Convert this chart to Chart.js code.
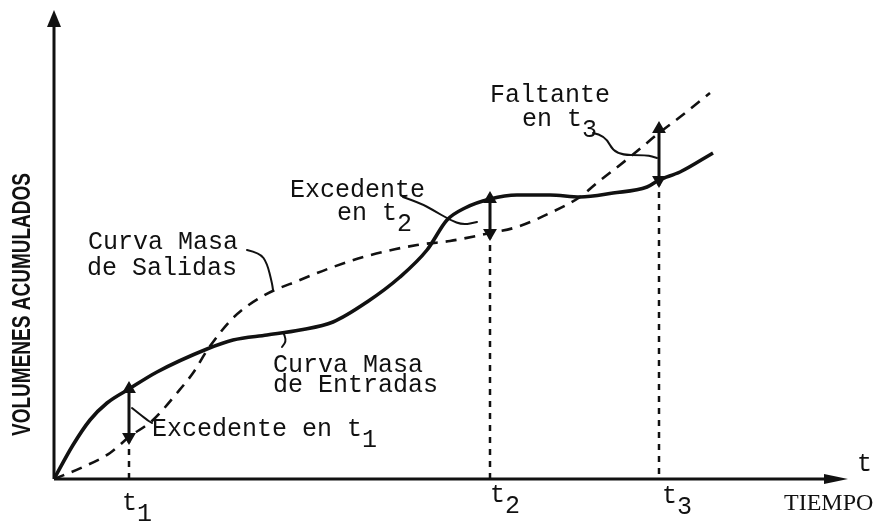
<!DOCTYPE html>
<html>
<head>
<meta charset="utf-8">
<script src="https://cdn.jsdelivr.net/npm/chart.js@4/dist/chart.umd.min.js"></script>
<style>
  body { margin: 0; background: #fff; }
  #wrap { width: 878px; height: 521px; }
</style>
</head>
<body>
<div id="wrap"><canvas id="grafica" width="878" height="521"></canvas></div>
<script>
// Curva masa de entradas (tiempo, volumen acumulado)
const entradasT = [0, 19, 36, 53, 75, 103, 153, 179, 213, 246, 279, 313, 346, 373, 393, 411, 436, 463, 496, 526, 559, 593, 605, 626, 659];
const entradasV = [0, 34, 59, 76, 90, 107, 130, 139, 144, 149, 157, 177, 202, 229, 259, 271, 280, 284, 284, 282, 286, 292, 299, 307, 326];

// Curva masa de salidas
const salidasT = [0, 29, 56, 75, 99, 123, 139, 154, 179, 209, 246, 279, 313, 363, 396, 436, 463, 496, 526, 543, 576, 605, 626, 656];
const salidasV = [0, 12, 26, 42, 59, 86, 106, 130, 161, 183, 199, 212, 223, 234, 238, 246, 252, 266, 282, 296, 322, 346, 362, 386];

// instantes t1, t2, t3 y volumenes en cada curva
const tiempos = [75, 436, 605];
const entradasEnT = [90, 280, 299];
const salidasEnT = [42, 246, 350];

const ejeMaxT = 794;
const ejeMaxV = 469;

const NEGRO = '#111';
const FUENTE = '25px "Liberation Mono", "DejaVu Sans Mono", monospace';

// textos (posicion en unidades de los ejes)
const textos = [
  { t: 'Curva Masa', sub: '', x: 34, y: 230 },
  { t: 'de Salidas', sub: '', x: 33, y: 204 },
  { t: 'Curva Masa', sub: '', x: 219, y: 107 },
  { t: 'de Entradas', sub: '', x: 219, y: 87 },
  { t: 'Excedente en t', sub: '1', x: 98, y: 43 },
  { t: 'Excedente', sub: '', x: 236, y: 282 },
  { t: 'en t', sub: '2', x: 283, y: 259 },
  { t: 'Faltante', sub: '', x: 436, y: 377 },
  { t: 'en t', sub: '3', x: 468, y: 353 },
  { t: 't', sub: '1', x: 68, y: -31 },
  { t: 't', sub: '2', x: 436, y: -23 },
  { t: 't', sub: '3', x: 608, y: -24 },
  { t: 't', sub: '', x: 803, y: 8 }
];

// lineas de llamada
const llamadas = [
  [[193, 229], [206, 226], [213, 216], [218, 196], [219, 189]],
  [[229, 147], [233, 139], [228, 132]],
  [[78, 71], [93, 59], [98, 56]],
  [[349, 282], [366, 276], [379, 269], [396, 259], [409, 254], [423, 257]],
  [[539, 346], [551, 344], [561, 324], [593, 324], [603, 321]]
];

function pares(xs, ys) {
  return xs.map((x, i) => ({ x: x, y: ys[i] }));
}

const datasets = [
  {
    label: 'Curva Masa de Entradas',
    data: pares(entradasT, entradasV),
    borderColor: NEGRO,
    borderWidth: 3.6,
    cubicInterpolationMode: 'monotone',
    pointRadius: 0,
    showLine: true
  },
  {
    label: 'Curva Masa de Salidas',
    data: pares(salidasT, salidasV),
    borderColor: NEGRO,
    borderWidth: 2.6,
    borderDash: [11, 8],
    cubicInterpolationMode: 'monotone',
    pointRadius: 0,
    showLine: true
  }
];

tiempos.forEach((t, i) => {
  const alto = Math.max(entradasEnT[i], salidasEnT[i]);
  const bajo = Math.min(entradasEnT[i], salidasEnT[i]);
  // flecha doble entre las dos curvas
  datasets.push({
    data: [{ x: t, y: alto }, { x: t, y: bajo }],
    borderColor: NEGRO,
    backgroundColor: NEGRO,
    borderWidth: 3,
    showLine: true,
    pointStyle: 'triangle',
    pointRadius: 5,
    pointRotation: [0, 180],
    clip: false
  });
  // linea punteada hasta el eje
  datasets.push({
    data: [{ x: t, y: bajo }, { x: t, y: 0 }],
    borderColor: NEGRO,
    borderWidth: 2.5,
    borderDash: [6, 6],
    showLine: true,
    pointRadius: 0,
    clip: false
  });
});

const dibujo = {
  id: 'dibujo',
  beforeDatasetsDraw(chart) {
    const { ctx, scales: { x, y } } = chart;
    const x0 = x.getPixelForValue(0), y0 = y.getPixelForValue(0);
    const xt = x.getPixelForValue(ejeMaxT), yt = y.getPixelForValue(ejeMaxV);
    ctx.save();
    ctx.strokeStyle = NEGRO;
    ctx.fillStyle = NEGRO;
    ctx.lineWidth = 3;
    ctx.beginPath();
    ctx.moveTo(x0, y0); ctx.lineTo(x0, yt + 10);
    ctx.moveTo(x0, y0); ctx.lineTo(xt - 14, y0);
    ctx.stroke();
    // puntas de flecha
    ctx.beginPath();
    ctx.moveTo(x0, yt); ctx.lineTo(x0 - 7, yt + 17); ctx.lineTo(x0 + 7, yt + 17); ctx.closePath();
    ctx.fill();
    ctx.beginPath();
    ctx.moveTo(xt, y0); ctx.lineTo(xt - 24, y0 - 5); ctx.lineTo(xt - 24, y0 + 5); ctx.closePath();
    ctx.fill();
    ctx.restore();
  },
  afterDatasetsDraw(chart) {
    const { ctx, scales: { x, y } } = chart;
    ctx.save();
    ctx.fillStyle = NEGRO;
    ctx.strokeStyle = NEGRO;
    ctx.textBaseline = 'alphabetic';
    ctx.textAlign = 'left';
    ctx.font = FUENTE;
    textos.forEach(o => {
      const px = x.getPixelForValue(o.x), py = y.getPixelForValue(o.y);
      ctx.fillText(o.t, px, py);
      if (o.sub) ctx.fillText(o.sub, px + ctx.measureText(o.t).width, py + 11);
    });

    ctx.font = '24px "Liberation Serif", serif';
    ctx.fillText('TIEMPO', x.getPixelForValue(730), y.getPixelForValue(-31));

    // llamadas
    ctx.lineWidth = 2;
    ctx.lineJoin = 'round';
    ctx.lineCap = 'round';
    llamadas.forEach(pts => {
      const p = pts.map(v => [x.getPixelForValue(v[0]), y.getPixelForValue(v[1])]);
      ctx.beginPath();
      ctx.moveTo(p[0][0], p[0][1]);
      for (let i = 1; i < p.length - 1; i++) {
        const mx = (p[i][0] + p[i + 1][0]) / 2, my = (p[i][1] + p[i + 1][1]) / 2;
        ctx.quadraticCurveTo(p[i][0], p[i][1], mx, my);
      }
      ctx.lineTo(p[p.length - 1][0], p[p.length - 1][1]);
      ctx.stroke();
    });

    // titulo del eje vertical
    const cy = (y.getPixelForValue(0) + y.getPixelForValue(ejeMaxV)) / 2;
    ctx.translate(23, cy + 60);
    ctx.rotate(-Math.PI / 2);
    ctx.font = 'bold 26px "Liberation Sans Narrow", "Liberation Sans", sans-serif';
    const w = ctx.measureText('VOLUMENES ACUMULADOS').width;
    ctx.scale(263 / w, 1);
    ctx.textAlign = 'center';
    ctx.textBaseline = 'middle';
    ctx.fillText('VOLUMENES ACUMULADOS', 0, 0);
    ctx.restore();
  }
};

new Chart(document.getElementById('grafica'), {
  type: 'scatter',
  data: { datasets: datasets },
  options: {
    responsive: false,
    animation: false,
    layout: { padding: { left: 54, right: 30, top: 10, bottom: 42 } },
    plugins: { legend: { display: false }, tooltip: { enabled: false } },
    scales: {
      x: { type: 'linear', min: 0, max: ejeMaxT, display: false },
      y: { type: 'linear', min: 0, max: ejeMaxV, display: false }
    }
  },
  plugins: [dibujo]
});
</script>
</body>
</html>
